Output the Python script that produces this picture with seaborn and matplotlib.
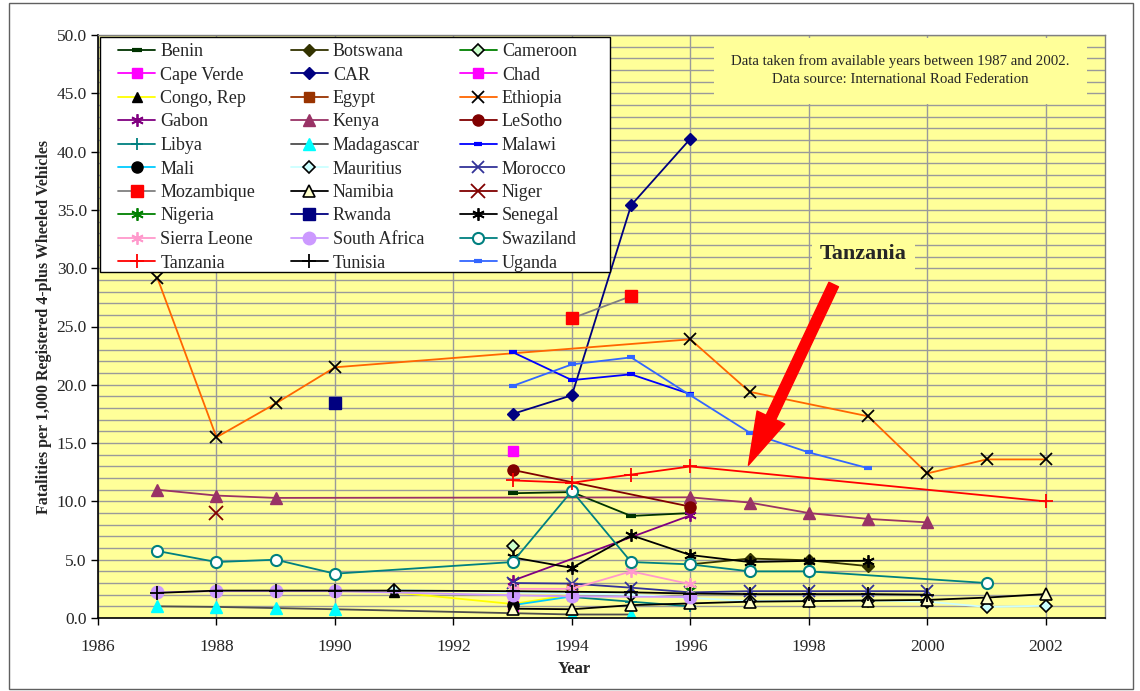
import numpy as np
import pandas as pd
import matplotlib
matplotlib.use("Agg")
import matplotlib.pyplot as plt
from matplotlib.ticker import MultipleLocator, FormatStrFormatter
from matplotlib.patches import Rectangle
import seaborn as sns

sns.set_theme(style="white")
plt.rcParams["font.family"] = ["Liberation Serif", "DejaVu Serif"]

# Road fatalities per 1,000 registered 4-plus wheeled vehicles, by country and year
benin_years = [1993, 1994, 1995, 1996]
benin_vals = [10.7, 10.8, 8.75, 9.0]
botswana_years = [1996, 1997, 1998, 1999]
botswana_vals = [4.6, 5.1, 4.95, 4.45]
cameroon_years = [1993]
cameroon_vals = [6.2]
cape_verde_years = [1993]
cape_verde_vals = [1.0]
car_years = [1993, 1994, 1995, 1996]
car_vals = [17.5, 19.1, 35.4, 41.1]
chad_years = [1993]
chad_vals = [14.3]
congo_years = [1991, 1993, 1994]
congo_vals = [2.2, 1.2, 2.0]
egypt_years = [1994]
egypt_vals = [2.6]
ethiopia_years = [1987, 1988, 1989, 1990, 1996, 1997, 1999, 2000, 2001, 2002]
ethiopia_vals = [29.2, 15.5, 18.4, 21.5, 23.9, 19.4, 17.3, 12.4, 13.6, 13.6]
gabon_years = [1993, 1996]
gabon_vals = [3.2, 8.8]
kenya_years = [1987, 1988, 1989, 1996, 1997, 1998, 1999, 2000]
kenya_vals = [11.0, 10.5, 10.3, 10.35, 9.9, 9.0, 8.5, 8.2]
lesotho_years = [1993, 1996]
lesotho_vals = [12.7, 9.55]
libya_years = [1994, 1995, 1996]
libya_vals = [1.8, 1.4, 1.0]
madagascar_years = [1987, 1988, 1989, 1990, 1994, 1995]
madagascar_vals = [1.0, 0.95, 0.85, 0.75, 0.3, 0.3]
malawi_years = [1993, 1994, 1995, 1996]
malawi_vals = [22.8, 20.4, 20.9, 19.2]
mali_years = [1993, 1994]
mali_vals = [1.1, 1.85]
mauritius_years = [1991, 1995, 1997, 1998, 1999, 2000, 2001, 2002]
mauritius_vals = [2.4, 2.0, 1.45, 1.5, 1.5, 1.4, 0.95, 1.05]
morocco_years = [1993, 1994, 1995, 1996, 1997, 1998, 1999, 2000]
morocco_vals = [3.0, 2.95, 2.6, 2.2, 2.3, 2.3, 2.3, 2.3]
mozambique_years = [1994, 1995]
mozambique_vals = [25.7, 27.6]
namibia_years = [1993, 1994, 1995, 1996, 1997, 1998, 1999, 2000, 2001, 2002]
namibia_vals = [0.8, 0.75, 1.1, 1.25, 1.4, 1.45, 1.5, 1.55, 1.75, 2.05]
niger_years = [1988]
niger_vals = [9.0]
nigeria_years = [1996]
nigeria_vals = [2.4]
rwanda_years = [1990]
rwanda_vals = [18.4]
senegal_years = [1993, 1994, 1995, 1996, 1997, 1998, 1999]
senegal_vals = [5.2, 4.3, 7.1, 5.4, 4.8, 4.9, 4.9]
sierra_leone_years = [1993, 1994, 1995, 1996]
sierra_leone_vals = [2.5, 2.5, 4.0, 2.9]
south_africa_years = [1987, 1988, 1989, 1990, 1993, 1994, 1996]
south_africa_vals = [2.2, 2.3, 2.3, 2.3, 1.95, 1.85, 1.8]
swaziland_years = [1987, 1988, 1989, 1990, 1993, 1994, 1995, 1996, 1997, 1998, 2001]
swaziland_vals = [5.75, 4.8, 5.0, 3.8, 4.8, 10.9, 4.8, 4.6, 4.0, 4.0, 3.0]
tanzania_years = [1993, 1994, 1995, 1996, 2002]
tanzania_vals = [11.8, 11.6, 12.3, 13.0, 10.0]
tunisia_years = [1987, 1988, 1989, 1990, 1991, 1993, 1994, 1995, 1996, 1997, 1998, 1999, 2000]
tunisia_vals = [2.15, 2.35, 2.35, 2.35, 2.35, 2.3, 2.25, 2.2, 2.1, 2.05, 2.05, 2.05, 2.0]
uganda_years = [1993, 1994, 1995, 1996, 1997, 1998, 1999]
uganda_vals = [19.9, 21.75, 22.35, 19.1, 15.9, 14.2, 12.85]

series = [
    ("Benin", benin_years, benin_vals),
    ("Botswana", botswana_years, botswana_vals),
    ("Cameroon", cameroon_years, cameroon_vals),
    ("Cape Verde", cape_verde_years, cape_verde_vals),
    ("CAR", car_years, car_vals),
    ("Chad", chad_years, chad_vals),
    ("Congo, Rep", congo_years, congo_vals),
    ("Egypt", egypt_years, egypt_vals),
    ("Ethiopia", ethiopia_years, ethiopia_vals),
    ("Gabon", gabon_years, gabon_vals),
    ("Kenya", kenya_years, kenya_vals),
    ("LeSotho", lesotho_years, lesotho_vals),
    ("Libya", libya_years, libya_vals),
    ("Madagascar", madagascar_years, madagascar_vals),
    ("Malawi", malawi_years, malawi_vals),
    ("Mali", mali_years, mali_vals),
    ("Mauritius", mauritius_years, mauritius_vals),
    ("Morocco", morocco_years, morocco_vals),
    ("Mozambique", mozambique_years, mozambique_vals),
    ("Namibia", namibia_years, namibia_vals),
    ("Niger", niger_years, niger_vals),
    ("Nigeria", nigeria_years, nigeria_vals),
    ("Rwanda", rwanda_years, rwanda_vals),
    ("Senegal", senegal_years, senegal_vals),
    ("Sierra Leone", sierra_leone_years, sierra_leone_vals),
    ("South Africa", south_africa_years, south_africa_vals),
    ("Swaziland", swaziland_years, swaziland_vals),
    ("Tanzania", tanzania_years, tanzania_vals),
    ("Tunisia", tunisia_years, tunisia_vals),
    ("Uganda", uganda_years, uganda_vals),
]

ast = (6, 2, 0)  # six-armed asterisk marker
styles = {
    "Benin": dict(color="#003300", marker="_", mfc="#003300", mec="#003300", ms=7, mew=3),
    "Botswana": dict(color="#333300", marker="D", mfc="#333300", mec="#333300", ms=6, mew=1),
    "Cameroon": dict(color="#008000", marker="D", mfc="#ccffcc", mec="#000000", ms=6, mew=1.2),
    "Cape Verde": dict(color="#ff00ff", marker="s", mfc="#ff00ff", mec="#ff00ff", ms=7, mew=1),
    "CAR": dict(color="#000080", marker="D", mfc="#000080", mec="#000080", ms=6, mew=1),
    "Chad": dict(color="#ff00ff", marker="s", mfc="#ff00ff", mec="#ff00ff", ms=7, mew=1),
    "Congo, Rep": dict(color="#ffff00", marker="^", mfc="#000000", mec="#000000", ms=7, mew=1),
    "Egypt": dict(color="#993300", marker="s", mfc="#993300", mec="#993300", ms=7, mew=1),
    "Ethiopia": dict(color="#ff6600", marker="x", mfc="#000000", mec="#000000", ms=8, mew=1.3),
    "Gabon": dict(color="#800080", marker=ast, mfc="#800080", mec="#800080", ms=9, mew=1.3),
    "Kenya": dict(color="#993366", marker="^", mfc="#993366", mec="#993366", ms=8, mew=1),
    "LeSotho": dict(color="#800000", marker="o", mfc="#800000", mec="#800000", ms=8, mew=1),
    "Libya": dict(color="#008080", marker="+", mfc="#008080", mec="#008080", ms=9, mew=1.3),
    "Madagascar": dict(color="#4d4d4d", marker="^", mfc="#00ffff", mec="#00ffff", ms=8, mew=1),
    "Malawi": dict(color="#0000ff", marker="_", mfc="#0000ff", mec="#0000ff", ms=6, mew=3),
    "Mali": dict(color="#00ccff", marker="o", mfc="#000000", mec="#000000", ms=8, mew=1),
    "Mauritius": dict(color="#ccffff", marker="D", mfc="#ccffff", mec="#000000", ms=6, mew=1.2),
    "Morocco": dict(color="#333399", marker="x", mfc="#333399", mec="#333399", ms=8, mew=1.3),
    "Mozambique": dict(color="#808080", marker="s", mfc="#ff0000", mec="#ff0000", ms=8, mew=1),
    "Namibia": dict(color="#000000", marker="^", mfc="#ffffcc", mec="#000000", ms=8, mew=1.2),
    "Niger": dict(color="#800000", marker="x", mfc="#800000", mec="#800000", ms=10, mew=1.3),
    "Nigeria": dict(color="#008000", marker=ast, mfc="#008000", mec="#008000", ms=9, mew=1.3),
    "Rwanda": dict(color="#000080", marker="s", mfc="#000080", mec="#000080", ms=8, mew=1),
    "Senegal": dict(color="#000000", marker=ast, mfc="#000000", mec="#000000", ms=9, mew=1.3),
    "Sierra Leone": dict(color="#ff99cc", marker=ast, mfc="#ff99cc", mec="#ff99cc", ms=9, mew=1.3),
    "South Africa": dict(color="#cc99ff", marker="o", mfc="#cc99ff", mec="#cc99ff", ms=9, mew=1),
    "Swaziland": dict(color="#008080", marker="o", mfc="#ffffff", mec="#008080", ms=8, mew=1.5),
    "Tanzania": dict(color="#ff0000", marker="+", mfc="#ff0000", mec="#ff0000", ms=10, mew=1.3),
    "Tunisia": dict(color="#000000", marker="+", mfc="#000000", mec="#000000", ms=10, mew=1.3),
    "Uganda": dict(color="#3366ff", marker="_", mfc="#3366ff", mec="#3366ff", ms=6, mew=3),
}

W, H = 1140, 691
fig = plt.figure(figsize=(W / 100, H / 100), dpi=100)
fig.patch.set_facecolor("white")
ax_left, ax_right, ax_top, ax_bottom = 98, 1105, 35, 618
ax = fig.add_axes([ax_left / W, 1 - ax_bottom / H, (ax_right - ax_left) / W,
                   (ax_bottom - ax_top) / H])
ax.set_facecolor("#ffff99")

for name, yrs, vals in series:
    st = styles[name]
    df = pd.DataFrame({"Year": yrs, "Value": vals})
    sns.lineplot(data=df, x="Year", y="Value", ax=ax, estimator=None, sort=False,
                 color=st["color"], linewidth=1.3, marker=st["marker"],
                 markerfacecolor=st["mfc"], markeredgecolor=st["mec"],
                 markersize=st["ms"], markeredgewidth=st["mew"], label=name,
                 legend=False)

# axes limits, ticks and grid
ax.set_xlim(1986, 2003)
ax.set_ylim(0, 50)
ax.xaxis.set_major_locator(MultipleLocator(2))
ax.yaxis.set_major_locator(MultipleLocator(5))
ax.yaxis.set_minor_locator(MultipleLocator(1))
ax.yaxis.set_major_formatter(FormatStrFormatter("%.1f"))
ax.grid(True, which="major", axis="x", color="#9a9a9a", linewidth=1.0)
ax.grid(True, which="both", axis="y", color="#9a9a9a", linewidth=1.0)
ax.set_axisbelow(True)
ax.tick_params(axis="both", which="major", direction="out", length=5, width=1,
               color="black", labelsize=12.5, left=True, bottom=True)
ax.tick_params(axis="y", which="major", pad=3)
ax.tick_params(axis="x", which="major", pad=10)
ax.tick_params(axis="y", which="minor", length=0)
for side in ("left", "bottom"):
    ax.spines[side].set_color("black")
    ax.spines[side].set_linewidth(1.2)
for side in ("top", "right"):
    ax.spines[side].set_color("#808080")
    ax.spines[side].set_linewidth(1.0)

ax.set_xlabel("Year", fontsize=12, fontweight="bold")
ax.set_ylabel("Fatalities per 1,000 Registered 4-plus Wheeled Vehicles",
              fontsize=11.5, fontweight="bold")
ax.xaxis.set_label_coords(0.473, -0.073)
ax.yaxis.set_label_coords(-0.046, 0.5)

# legend box (white, black edge) with entries filled row by row in three columns
aw, ah = ax_right - ax_left, ax_bottom - ax_top
lx0, lx1, ly0, ly1 = 100, 610, 37, 272
ax.add_patch(Rectangle(((lx0 - ax_left) / aw, (ax_bottom - ly1) / ah),
                       (lx1 - lx0) / aw, (ly1 - ly0) / ah, transform=ax.transAxes,
                       facecolor="white", edgecolor="black", linewidth=1.0, zorder=9))
handles, labels = ax.get_legend_handles_labels()
order = list(range(0, 30, 3)) + list(range(1, 30, 3)) + list(range(2, 30, 3))
leg = ax.legend([handles[i] for i in order], [labels[i] for i in order],
                ncol=3, loc="upper left",
                bbox_to_anchor=((118 - ax_left) / aw, (ax_bottom - 43) / ah),
                fontsize=13, frameon=False, handlelength=2.05,
                handletextpad=0.3, labelspacing=0.36, columnspacing=1.95,
                borderpad=0.0, borderaxespad=0.0)
leg.set_zorder(10)

# source note and highlighted country
ax.text(1999.55, 46.95,
        "Data taken from available years between 1987 and 2002.\n"
        "Data source: International Road Federation",
        ha="center", va="center", fontsize=10.7, linespacing=1.5, zorder=5,
        bbox=dict(boxstyle="square,pad=1.15", facecolor="#ffff99", edgecolor="none"))
ax.text(1998.92, 31.2, "Tanzania", ha="center", va="center", fontsize=16,
        fontweight="bold", zorder=5,
        bbox=dict(boxstyle="square,pad=0.35", facecolor="#ffff99", edgecolor="none"))
ax.annotate("", xy=(1996.98, 13.1), xytext=(1998.42, 28.6),
            arrowprops=dict(arrowstyle="simple,head_length=1.9,head_width=1.1,tail_width=0.38",
                            facecolor="#ff0000", edgecolor="#ff0000", mutation_scale=20,
                            shrinkA=0, shrinkB=0),
            zorder=6)

# chart-area border
fig.patches.append(Rectangle((9 / W, 2 / H), (W - 16) / W, (H - 5) / H,
                             transform=fig.transFigure, fill=False,
                             edgecolor="#606060", linewidth=1.0))

fig.savefig("out.png", dpi=100, facecolor="white")
